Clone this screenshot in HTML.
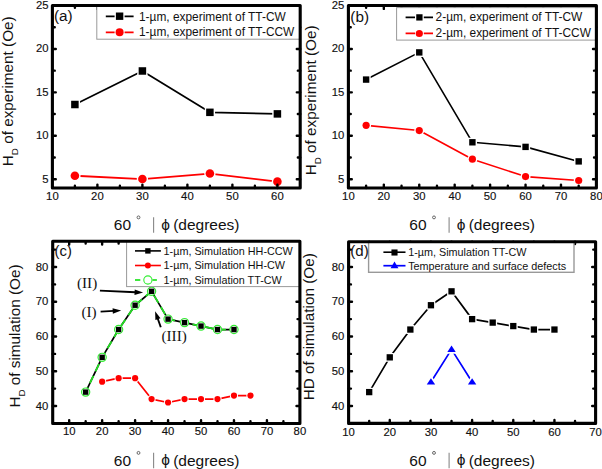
<!DOCTYPE html>
<html><head><meta charset="utf-8"><style>
html,body{margin:0;padding:0;background:#fff;}
body{width:602px;height:469px;overflow:hidden;}
svg{display:block;}
text{font-family:"Liberation Sans",sans-serif;fill:#111;}
.t{font-size:11.3px;stroke:#111;stroke-width:0.15px;}
.xt{font-size:15.5px;}
.lg{font-size:11.9px;}
.lg2{font-size:10.8px;}
.pl{font-size:15.3px;}
.yt{font-size:15.3px;}
.ann{font-family:"Liberation Serif",serif;font-size:15.2px;}
</style></head><body>
<svg width="602" height="469" viewBox="0 0 602 469">
<rect width="602" height="469" fill="#fff"/>
<polyline points="74.9,104.51 142.4,70.98 209.9,112.33 277.4,113.89" fill="none" stroke="#000" stroke-width="1.7" stroke-linejoin="round" />
<polyline points="74.9,175.73 142.4,179.03 209.9,173.55 277.4,181.63" fill="none" stroke="#f00" stroke-width="1.8" stroke-linejoin="round" />
<rect x="71.15" y="100.76" width="7.5" height="7.5" fill="#000" stroke="#fff" stroke-width="2.8" paint-order="stroke" stroke-linejoin="round"/>
<rect x="138.65" y="67.23" width="7.5" height="7.5" fill="#000" stroke="#fff" stroke-width="2.8" paint-order="stroke" stroke-linejoin="round"/>
<rect x="206.15" y="108.58" width="7.5" height="7.5" fill="#000" stroke="#fff" stroke-width="2.8" paint-order="stroke" stroke-linejoin="round"/>
<rect x="273.65" y="110.14" width="7.5" height="7.5" fill="#000" stroke="#fff" stroke-width="2.8" paint-order="stroke" stroke-linejoin="round"/>
<circle cx="74.9" cy="175.73" r="4.3" fill="#f00" stroke="#fff" stroke-width="2.8" paint-order="stroke"/>
<circle cx="142.4" cy="179.03" r="4.3" fill="#f00" stroke="#fff" stroke-width="2.8" paint-order="stroke"/>
<circle cx="209.9" cy="173.55" r="4.3" fill="#f00" stroke="#fff" stroke-width="2.8" paint-order="stroke"/>
<circle cx="277.4" cy="181.63" r="4.3" fill="#f00" stroke="#fff" stroke-width="2.8" paint-order="stroke"/>
<path d="M97.4 188v-3.4M97.4 5.5v3.4M142.4 188v-3.4M142.4 5.5v3.4M187.4 188v-3.4M187.4 5.5v3.4M232.4 188v-3.4M232.4 5.5v3.4M277.4 188v-3.4M277.4 5.5v3.4M74.9 188v-2.35M74.9 5.5v2.35M119.9 188v-2.35M119.9 5.5v2.35M164.9 188v-2.35M164.9 5.5v2.35M209.9 188v-2.35M209.9 5.5v2.35M254.9 188v-2.35M254.9 5.5v2.35M52.4 179.2h3.4M300.2 179.2h-3.4M52.4 135.78h3.4M300.2 135.78h-3.4M52.4 92.35h3.4M300.2 92.35h-3.4M52.4 48.93h3.4M300.2 48.93h-3.4M52.4 157.49h2.35M300.2 157.49h-2.35M52.4 114.06h2.35M300.2 114.06h-2.35M52.4 70.64h2.35M300.2 70.64h-2.35M52.4 27.21h2.35M300.2 27.21h-2.35" stroke="#000" stroke-width="2.4" stroke-linecap="round" fill="none"/>
<rect x="96.8" y="5.5" width="203.4" height="33.7" fill="#fff" stroke="#999" stroke-width="1"/>
<path d="M105.8 16.4H114.6M124.6 16.4H133.6" stroke="#000" stroke-width="1.8"/>
<rect x="115.9" y="12.5" width="7.4" height="7.4" fill="#000"/>
<path d="M105.8 32.4H114.6M124.6 32.4H133.6" stroke="#f00" stroke-width="1.8"/>
<circle cx="119.6" cy="32.3" r="4" fill="#f00"/>
<text x="139" y="20.5" class="lg">1-µm, experiment of TT-CW</text>
<text x="139" y="36.3" class="lg">1-µm, experiment of TT-CCW</text>
<rect x="52.4" y="5.5" width="247.8" height="182.5" fill="none" stroke="#000" stroke-width="3.1" stroke-linejoin="round"/>
<text x="52.4" y="200" text-anchor="middle" class="t">10</text>
<text x="97.4" y="200" text-anchor="middle" class="t">20</text>
<text x="142.4" y="200" text-anchor="middle" class="t">30</text>
<text x="187.4" y="200" text-anchor="middle" class="t">40</text>
<text x="232.4" y="200" text-anchor="middle" class="t">50</text>
<text x="277.4" y="200" text-anchor="middle" class="t">60</text>
<text x="48.6" y="182.7" text-anchor="end" class="t">5</text>
<text x="48.6" y="139.28" text-anchor="end" class="t">10</text>
<text x="48.6" y="95.85" text-anchor="end" class="t">15</text>
<text x="48.6" y="52.43" text-anchor="end" class="t">20</text>
<text x="48.6" y="9" text-anchor="end" class="t">25</text>
<text x="54" y="20.6" class="pl">(a)</text>
<g transform="translate(0,0)">
<text x="113.8" y="230" class="xt">60</text>
<circle cx="138.5" cy="217.4" r="1.45" fill="none" stroke="#444" stroke-width="0.8"/>
<path d="M153.6 217.3V232.7" stroke="#888" stroke-width="1.1"/>
<text x="161.3" y="229.8" class="xt phi">&#x3D5;</text>
<text x="173.2" y="230" class="xt">(degrees)</text>
</g>
<text transform="translate(12.5,166.2) rotate(-90)" class="yt">H<tspan font-size="9.8" dy="5.5">D</tspan><tspan dy="-5.5"> of experiment (Oe)</tspan></text>
<polyline points="366.11,79.58 419.26,52.4 472.4,142.29 525.55,146.89 578.69,161.4" fill="none" stroke="#000" stroke-width="1.6" stroke-linejoin="round" />
<polyline points="366.11,125.35 419.26,130.56 472.4,159.22 525.55,176.59 578.69,180.5" fill="none" stroke="#f00" stroke-width="1.6" stroke-linejoin="round" />
<rect x="362.91" y="76.38" width="6.4" height="6.4" fill="#000" stroke="#fff" stroke-width="2.8" paint-order="stroke" stroke-linejoin="round"/>
<rect x="416.06" y="49.2" width="6.4" height="6.4" fill="#000" stroke="#fff" stroke-width="2.8" paint-order="stroke" stroke-linejoin="round"/>
<rect x="469.2" y="139.09" width="6.4" height="6.4" fill="#000" stroke="#fff" stroke-width="2.8" paint-order="stroke" stroke-linejoin="round"/>
<rect x="522.35" y="143.69" width="6.4" height="6.4" fill="#000" stroke="#fff" stroke-width="2.8" paint-order="stroke" stroke-linejoin="round"/>
<rect x="575.49" y="158.2" width="6.4" height="6.4" fill="#000" stroke="#fff" stroke-width="2.8" paint-order="stroke" stroke-linejoin="round"/>
<circle cx="366.11" cy="125.35" r="3.6" fill="#f00" stroke="#fff" stroke-width="2.8" paint-order="stroke"/>
<circle cx="419.26" cy="130.56" r="3.6" fill="#f00" stroke="#fff" stroke-width="2.8" paint-order="stroke"/>
<circle cx="472.4" cy="159.22" r="3.6" fill="#f00" stroke="#fff" stroke-width="2.8" paint-order="stroke"/>
<circle cx="525.55" cy="176.59" r="3.6" fill="#f00" stroke="#fff" stroke-width="2.8" paint-order="stroke"/>
<circle cx="578.69" cy="180.5" r="3.6" fill="#f00" stroke="#fff" stroke-width="2.8" paint-order="stroke"/>
<path d="M383.83 188v-3.4M383.83 5.5v3.4M419.26 188v-3.4M419.26 5.5v3.4M454.69 188v-3.4M454.69 5.5v3.4M490.12 188v-3.4M490.12 5.5v3.4M525.55 188v-3.4M525.55 5.5v3.4M560.98 188v-3.4M560.98 5.5v3.4M366.11 188v-2.35M366.11 5.5v2.35M401.54 188v-2.35M401.54 5.5v2.35M436.97 188v-2.35M436.97 5.5v2.35M472.4 188v-2.35M472.4 5.5v2.35M507.83 188v-2.35M507.83 5.5v2.35M543.26 188v-2.35M543.26 5.5v2.35M578.69 188v-2.35M578.69 5.5v2.35M348.4 179.2h3.4M596.4 179.2h-3.4M348.4 135.78h3.4M596.4 135.78h-3.4M348.4 92.35h3.4M596.4 92.35h-3.4M348.4 48.93h3.4M596.4 48.93h-3.4M348.4 157.49h2.35M596.4 157.49h-2.35M348.4 114.06h2.35M596.4 114.06h-2.35M348.4 70.64h2.35M596.4 70.64h-2.35M348.4 27.21h2.35M596.4 27.21h-2.35" stroke="#000" stroke-width="2.4" stroke-linecap="round" fill="none"/>
<rect x="396.6" y="7.6" width="199.8" height="32.5" fill="#fff" stroke="#999" stroke-width="1"/>
<path d="M405.6 17.4H415M423.8 17.4H433" stroke="#000" stroke-width="1.6"/>
<rect x="416.25" y="14.25" width="6.3" height="6.3" fill="#000"/>
<path d="M405.6 33.4H415M423.8 33.4H433" stroke="#f00" stroke-width="1.6"/>
<circle cx="419.3" cy="33.5" r="3.6" fill="#f00"/>
<text x="435.6" y="21" class="lg">2-µm, experiment of TT-CW</text>
<text x="435.6" y="36.9" class="lg">2-µm, experiment of TT-CCW</text>
<rect x="348.4" y="5.5" width="248" height="182.5" fill="none" stroke="#000" stroke-width="3.1" stroke-linejoin="round"/>
<text x="348.4" y="200" text-anchor="middle" class="t">10</text>
<text x="383.83" y="200" text-anchor="middle" class="t">20</text>
<text x="419.26" y="200" text-anchor="middle" class="t">30</text>
<text x="454.69" y="200" text-anchor="middle" class="t">40</text>
<text x="490.12" y="200" text-anchor="middle" class="t">50</text>
<text x="525.55" y="200" text-anchor="middle" class="t">60</text>
<text x="560.98" y="200" text-anchor="middle" class="t">70</text>
<text x="596.41" y="200" text-anchor="middle" class="t">80</text>
<text x="344.4" y="182.7" text-anchor="end" class="t">5</text>
<text x="344.4" y="139.28" text-anchor="end" class="t">10</text>
<text x="344.4" y="95.85" text-anchor="end" class="t">15</text>
<text x="344.4" y="52.43" text-anchor="end" class="t">20</text>
<text x="344.4" y="9" text-anchor="end" class="t">25</text>
<text x="350.3" y="21.8" class="pl">(b)</text>
<g transform="translate(295.5,0)">
<text x="113.8" y="230" class="xt">60</text>
<circle cx="138.5" cy="217.4" r="1.45" fill="none" stroke="#444" stroke-width="0.8"/>
<path d="M153.6 217.3V232.7" stroke="#888" stroke-width="1.1"/>
<text x="161.3" y="229.8" class="xt phi">&#x3D5;</text>
<text x="173.2" y="230" class="xt">(degrees)</text>
</g>
<text transform="translate(315.7,175.3) rotate(-90)" class="yt">H<tspan font-size="9.8" dy="5.5">D</tspan><tspan dy="-5.5"> of experiment (Oe)</tspan></text>
<polyline points="85.66,392.1 102.14,357.35 118.62,329.55 135.1,305.23 151.58,291.32 168.06,319.12 184.54,322.6 201.02,326.07 217.5,329.55 233.98,329.55" fill="none" stroke="#000" stroke-width="1.7" stroke-linejoin="round" />
<polyline points="102.14,381.68 118.62,378.2 135.1,378.2 151.58,399.05 168.06,402.52 184.54,399.05 201.02,399.05 217.5,399.05 233.98,395.58 250.46,395.58" fill="none" stroke="#f00" stroke-width="1.7" stroke-linejoin="round" />
<polyline points="85.66,392.1 102.14,357.35 118.62,329.55 135.1,305.23 151.58,291.32 168.06,319.12 184.54,322.6 201.02,326.07 217.5,329.55 233.98,329.55" fill="none" stroke="#22dd22" stroke-width="1.8" stroke-linejoin="round" stroke-dasharray="8 5" stroke-dashoffset="3"/>
<circle cx="85.66" cy="392.1" r="4.1" fill="#fff" stroke="#3e3" stroke-width="1.2"/>
<circle cx="102.14" cy="357.35" r="4.1" fill="#fff" stroke="#3e3" stroke-width="1.2"/>
<circle cx="118.62" cy="329.55" r="4.1" fill="#fff" stroke="#3e3" stroke-width="1.2"/>
<circle cx="135.1" cy="305.23" r="4.1" fill="#fff" stroke="#3e3" stroke-width="1.2"/>
<circle cx="151.58" cy="291.32" r="4.1" fill="#fff" stroke="#3e3" stroke-width="1.2"/>
<circle cx="168.06" cy="319.12" r="4.1" fill="#fff" stroke="#3e3" stroke-width="1.2"/>
<circle cx="184.54" cy="322.6" r="4.1" fill="#fff" stroke="#3e3" stroke-width="1.2"/>
<circle cx="201.02" cy="326.07" r="4.1" fill="#fff" stroke="#3e3" stroke-width="1.2"/>
<circle cx="217.5" cy="329.55" r="4.1" fill="#fff" stroke="#3e3" stroke-width="1.2"/>
<circle cx="233.98" cy="329.55" r="4.1" fill="#fff" stroke="#3e3" stroke-width="1.2"/>
<rect x="82.96" y="389.4" width="5.4" height="5.4" fill="#000"/>
<rect x="99.44" y="354.65" width="5.4" height="5.4" fill="#000"/>
<rect x="115.92" y="326.85" width="5.4" height="5.4" fill="#000"/>
<rect x="132.4" y="302.53" width="5.4" height="5.4" fill="#000"/>
<rect x="148.88" y="288.62" width="5.4" height="5.4" fill="#000"/>
<rect x="165.36" y="316.43" width="5.4" height="5.4" fill="#000"/>
<rect x="181.84" y="319.9" width="5.4" height="5.4" fill="#000"/>
<rect x="198.32" y="323.38" width="5.4" height="5.4" fill="#000"/>
<rect x="214.8" y="326.85" width="5.4" height="5.4" fill="#000"/>
<rect x="231.28" y="326.85" width="5.4" height="5.4" fill="#000"/>
<circle cx="102.14" cy="381.68" r="3.1" fill="#f00" stroke="#fff" stroke-width="2.0" paint-order="stroke"/>
<circle cx="118.62" cy="378.2" r="3.1" fill="#f00" stroke="#fff" stroke-width="2.0" paint-order="stroke"/>
<circle cx="135.1" cy="378.2" r="3.1" fill="#f00" stroke="#fff" stroke-width="2.0" paint-order="stroke"/>
<circle cx="151.58" cy="399.05" r="3.1" fill="#f00" stroke="#fff" stroke-width="2.0" paint-order="stroke"/>
<circle cx="168.06" cy="402.52" r="3.1" fill="#f00" stroke="#fff" stroke-width="2.0" paint-order="stroke"/>
<circle cx="184.54" cy="399.05" r="3.1" fill="#f00" stroke="#fff" stroke-width="2.0" paint-order="stroke"/>
<circle cx="201.02" cy="399.05" r="3.1" fill="#f00" stroke="#fff" stroke-width="2.0" paint-order="stroke"/>
<circle cx="217.5" cy="399.05" r="3.1" fill="#f00" stroke="#fff" stroke-width="2.0" paint-order="stroke"/>
<circle cx="233.98" cy="395.58" r="3.1" fill="#f00" stroke="#fff" stroke-width="2.0" paint-order="stroke"/>
<circle cx="250.46" cy="395.58" r="3.1" fill="#f00" stroke="#fff" stroke-width="2.0" paint-order="stroke"/>
<path d="M69.18 423.5v-3.4M69.18 241.2v3.4M102.14 423.5v-3.4M102.14 241.2v3.4M135.1 423.5v-3.4M135.1 241.2v3.4M168.06 423.5v-3.4M168.06 241.2v3.4M201.02 423.5v-3.4M201.02 241.2v3.4M233.98 423.5v-3.4M233.98 241.2v3.4M266.94 423.5v-3.4M266.94 241.2v3.4M85.66 423.5v-2.35M85.66 241.2v2.35M118.62 423.5v-2.35M118.62 241.2v2.35M151.58 423.5v-2.35M151.58 241.2v2.35M184.54 423.5v-2.35M184.54 241.2v2.35M217.5 423.5v-2.35M217.5 241.2v2.35M250.46 423.5v-2.35M250.46 241.2v2.35M283.42 423.5v-2.35M283.42 241.2v2.35M52.7 406h3.4M299.9 406h-3.4M52.7 371.25h3.4M299.9 371.25h-3.4M52.7 336.5h3.4M299.9 336.5h-3.4M52.7 301.75h3.4M299.9 301.75h-3.4M52.7 267h3.4M299.9 267h-3.4M52.7 388.62h2.35M299.9 388.62h-2.35M52.7 353.88h2.35M299.9 353.88h-2.35M52.7 319.12h2.35M299.9 319.12h-2.35M52.7 284.38h2.35M299.9 284.38h-2.35M52.7 249.62h2.35M299.9 249.62h-2.35" stroke="#000" stroke-width="2.4" stroke-linecap="round" fill="none"/>
<rect x="126.6" y="241.2" width="173.3" height="45.4" fill="#fff" stroke="#999" stroke-width="1"/>
<path d="M135 250.9H160.9" stroke="#000" stroke-width="1.6"/>
<rect x="145.2" y="248.2" width="5.4" height="5.4" fill="#000"/>
<path d="M135 265.5H160.9" stroke="#f00" stroke-width="1.6"/>
<circle cx="147.9" cy="265.5" r="3" fill="#f00"/>
<path d="M135 280H140.3M152.4 280H156.9" stroke="#00e000" stroke-width="1.7"/>
<circle cx="147.9" cy="280" r="4.1" fill="#fff" stroke="#3e3" stroke-width="1.1"/>
<text x="163.6" y="254.6" class="lg2">1-µm, Simulation HH-CCW</text>
<text x="163.6" y="268.8" class="lg2">1-µm, Simulation HH-CW</text>
<text x="163.6" y="283.6" class="lg2">1-µm, Simulation TT-CW</text>
<rect x="52.7" y="241.2" width="247.2" height="182.3" fill="none" stroke="#000" stroke-width="3.1" stroke-linejoin="round"/>
<text x="69.18" y="435.3" text-anchor="middle" class="t">10</text>
<text x="102.14" y="435.3" text-anchor="middle" class="t">20</text>
<text x="135.1" y="435.3" text-anchor="middle" class="t">30</text>
<text x="168.06" y="435.3" text-anchor="middle" class="t">40</text>
<text x="201.02" y="435.3" text-anchor="middle" class="t">50</text>
<text x="233.98" y="435.3" text-anchor="middle" class="t">60</text>
<text x="266.94" y="435.3" text-anchor="middle" class="t">70</text>
<text x="299.9" y="435.3" text-anchor="middle" class="t">80</text>
<text x="48.4" y="409.5" text-anchor="end" class="t">40</text>
<text x="48.4" y="374.75" text-anchor="end" class="t">50</text>
<text x="48.4" y="340" text-anchor="end" class="t">60</text>
<text x="48.4" y="305.25" text-anchor="end" class="t">70</text>
<text x="48.4" y="270.5" text-anchor="end" class="t">80</text>
<text x="54.6" y="255.8" class="pl" style="font-size:14.8px">(c)</text>
<text x="77" y="287.8" class="ann">(II)</text>
<text x="81.5" y="316.8" class="ann">(I)</text>
<text x="161.5" y="341.4" class="ann">(III)</text>
<path d="M99.9 290.6L135.61 292.25" stroke="#000" stroke-width="1.9"/>
<path d="M143.1 292.6L134.48 294.9L134.73 289.51Z" fill="#000"/>
<path d="M100.6 311.6L113.71 310.9" stroke="#000" stroke-width="1.9"/>
<path d="M121.2 310.5L112.86 313.65L112.57 308.26Z" fill="#000"/>
<path d="M160.8 327.2L157.62 318.27" stroke="#000" stroke-width="1.9"/>
<path d="M155.1 311.2L160.5 318.3L155.41 320.11Z" fill="#000"/>
<g transform="translate(0,235.5)">
<text x="113.8" y="230" class="xt">60</text>
<circle cx="138.5" cy="217.4" r="1.45" fill="none" stroke="#444" stroke-width="0.8"/>
<path d="M153.6 217.3V232.7" stroke="#888" stroke-width="1.1"/>
<text x="161.3" y="229.8" class="xt phi">&#x3D5;</text>
<text x="173.2" y="230" class="xt">(degrees)</text>
</g>
<text transform="translate(19.8,407.6) rotate(-90)" class="yt">H<tspan font-size="9.8" dy="5.5">D</tspan><tspan dy="-5.5"> of simulation (Oe)</tspan></text>
<polyline points="369.19,392.1 389.77,357.35 410.36,329.55 430.94,305.23 451.53,291.32 472.11,319.12 492.7,322.6 513.28,326.07 533.87,329.55 554.45,329.55" fill="none" stroke="#000" stroke-width="1.7" stroke-linejoin="round" />
<polyline points="430.94,382.02 451.53,349.36 472.11,382.02" fill="none" stroke="#00f" stroke-width="1.7" stroke-linejoin="round" />
<rect x="366.04" y="388.95" width="6.3" height="6.3" fill="#000" stroke="#fff" stroke-width="2.6" paint-order="stroke" stroke-linejoin="round"/>
<rect x="386.62" y="354.2" width="6.3" height="6.3" fill="#000" stroke="#fff" stroke-width="2.6" paint-order="stroke" stroke-linejoin="round"/>
<rect x="407.21" y="326.4" width="6.3" height="6.3" fill="#000" stroke="#fff" stroke-width="2.6" paint-order="stroke" stroke-linejoin="round"/>
<rect x="427.79" y="302.08" width="6.3" height="6.3" fill="#000" stroke="#fff" stroke-width="2.6" paint-order="stroke" stroke-linejoin="round"/>
<rect x="448.38" y="288.18" width="6.3" height="6.3" fill="#000" stroke="#fff" stroke-width="2.6" paint-order="stroke" stroke-linejoin="round"/>
<rect x="468.96" y="315.98" width="6.3" height="6.3" fill="#000" stroke="#fff" stroke-width="2.6" paint-order="stroke" stroke-linejoin="round"/>
<rect x="489.55" y="319.45" width="6.3" height="6.3" fill="#000" stroke="#fff" stroke-width="2.6" paint-order="stroke" stroke-linejoin="round"/>
<rect x="510.13" y="322.93" width="6.3" height="6.3" fill="#000" stroke="#fff" stroke-width="2.6" paint-order="stroke" stroke-linejoin="round"/>
<rect x="530.72" y="326.4" width="6.3" height="6.3" fill="#000" stroke="#fff" stroke-width="2.6" paint-order="stroke" stroke-linejoin="round"/>
<rect x="551.3" y="326.4" width="6.3" height="6.3" fill="#000" stroke="#fff" stroke-width="2.6" paint-order="stroke" stroke-linejoin="round"/>
<path d="M430.94 378.22L435.14 384.62L426.74 384.62Z" fill="#00f" stroke="#fff" stroke-width="3.6" paint-order="stroke" stroke-linejoin="round"/>
<path d="M451.53 345.56L455.73 351.96L447.33 351.96Z" fill="#00f" stroke="#fff" stroke-width="3.6" paint-order="stroke" stroke-linejoin="round"/>
<path d="M472.11 378.22L476.31 384.62L467.91 384.62Z" fill="#00f" stroke="#fff" stroke-width="3.6" paint-order="stroke" stroke-linejoin="round"/>
<path d="M389.77 423.4v-3.4M389.77 241.7v3.4M430.94 423.4v-3.4M430.94 241.7v3.4M472.11 423.4v-3.4M472.11 241.7v3.4M513.28 423.4v-3.4M513.28 241.7v3.4M554.45 423.4v-3.4M554.45 241.7v3.4M369.19 423.4v-2.35M369.19 241.7v2.35M410.36 423.4v-2.35M410.36 241.7v2.35M451.53 423.4v-2.35M451.53 241.7v2.35M492.7 423.4v-2.35M492.7 241.7v2.35M533.87 423.4v-2.35M533.87 241.7v2.35M575.04 423.4v-2.35M575.04 241.7v2.35M348.6 406h3.4M595.6 406h-3.4M348.6 371.25h3.4M595.6 371.25h-3.4M348.6 336.5h3.4M595.6 336.5h-3.4M348.6 301.75h3.4M595.6 301.75h-3.4M348.6 267h3.4M595.6 267h-3.4M348.6 388.62h2.35M595.6 388.62h-2.35M348.6 353.88h2.35M595.6 353.88h-2.35M348.6 319.12h2.35M595.6 319.12h-2.35M348.6 284.38h2.35M595.6 284.38h-2.35M348.6 249.62h2.35M595.6 249.62h-2.35" stroke="#000" stroke-width="2.4" stroke-linecap="round" fill="none"/>
<rect x="368.6" y="241.7" width="205.4" height="30.6" fill="#fff" stroke="#999" stroke-width="1.4"/>
<path d="M383.4 252.2H405.5" stroke="#000" stroke-width="1.6"/>
<rect x="391.45" y="249.45" width="6.1" height="6.1" fill="#000"/>
<path d="M383.4 265.7H405.5" stroke="#00f" stroke-width="1.7"/>
<path d="M394.5 261.4L398.45 268.2L390.55 268.2Z" fill="#00f"/>
<text x="408.2" y="256" class="lg2">1-µm, Simulation TT-CW</text>
<text x="408.2" y="269.6" class="lg2">Temperature and surface defects</text>
<rect x="348.6" y="241.7" width="247" height="181.7" fill="none" stroke="#000" stroke-width="3.1" stroke-linejoin="round"/>
<text x="348.6" y="435.7" text-anchor="middle" class="t">10</text>
<text x="389.77" y="435.7" text-anchor="middle" class="t">20</text>
<text x="430.94" y="435.7" text-anchor="middle" class="t">30</text>
<text x="472.11" y="435.7" text-anchor="middle" class="t">40</text>
<text x="513.28" y="435.7" text-anchor="middle" class="t">50</text>
<text x="554.45" y="435.7" text-anchor="middle" class="t">60</text>
<text x="595.62" y="435.7" text-anchor="middle" class="t">70</text>
<text x="344.4" y="409.5" text-anchor="end" class="t">40</text>
<text x="344.4" y="374.75" text-anchor="end" class="t">50</text>
<text x="344.4" y="340" text-anchor="end" class="t">60</text>
<text x="344.4" y="305.25" text-anchor="end" class="t">70</text>
<text x="344.4" y="270.5" text-anchor="end" class="t">80</text>
<text x="350.3" y="256" class="pl" style="font-size:15.1px">(d)</text>
<g transform="translate(295.5,235.5)">
<text x="113.8" y="230" class="xt">60</text>
<circle cx="138.5" cy="217.4" r="1.45" fill="none" stroke="#444" stroke-width="0.8"/>
<path d="M153.6 217.3V232.7" stroke="#888" stroke-width="1.1"/>
<text x="161.3" y="229.8" class="xt phi">&#x3D5;</text>
<text x="173.2" y="230" class="xt">(degrees)</text>
</g>
<text transform="translate(313.8,400.3) rotate(-90)" class="yt">HD of simulation (Oe)</text>
</svg></body></html>
